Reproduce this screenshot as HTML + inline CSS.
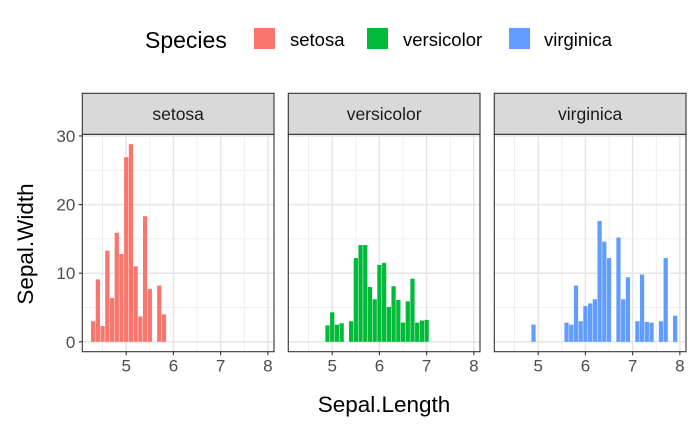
<!DOCTYPE html>
<html><head><meta charset="utf-8"><style>body{margin:0;background:#fff}svg{display:block;font-family:"Liberation Sans",Arial,sans-serif}</style></head>
<body>
<svg id="c" width="700" height="432" viewBox="0 0 700 432">
<g>
<text x="145" y="48" font-size="23" fill="#000">Species</text>
<rect x="254" y="28" width="21" height="21" fill="#F8766D"/>
<text x="290" y="46" font-size="18.5">setosa</text>
<rect x="367" y="28" width="21" height="21" fill="#00BA38"/>
<text x="403" y="46" font-size="18.5">versicolor</text>
<rect x="509" y="28" width="21" height="21" fill="#619CFF"/>
<text x="544" y="46" font-size="18.5">virginica</text>
</g>
<text x="384" y="412" font-size="22.5" text-anchor="middle">Sepal.Length</text>
<text transform="translate(33,244) rotate(-90)" font-size="22.5" text-anchor="middle">Sepal.Width</text>
<g id="panels"></g>
</svg>
<script>
const species = ["setosa","versicolor","virginica"];
const colors = ["#F8766D","#00BA38","#619CFF"];
const setosaX = [4.3,4.4,4.5,4.6,4.7,4.8,4.9,5.0,5.1,5.2,5.3,5.4,5.5,5.7,5.8];
const setosaY = [3.0,9.1,2.3,13.3,6.4,15.9,12.8,26.9,28.8,11.0,3.7,18.3,7.7,8.2,4.0];
const versicolorX = [4.9,5.0,5.1,5.2,5.4,5.5,5.6,5.7,5.8,5.9,6.0,6.1,6.2,6.3,6.4,6.5,6.6,6.7,6.8,6.9,7.0];
const versicolorY = [2.4,4.3,2.5,2.7,3.0,12.2,14.1,14.1,8.0,6.2,11.2,11.5,5.1,8.1,6.1,2.8,5.9,9.2,2.8,3.1,3.2];
const virginicaX = [4.9,5.6,5.7,5.8,5.9,6.0,6.1,6.2,6.3,6.4,6.5,6.7,6.8,6.9,7.1,7.2,7.3,7.4,7.6,7.7,7.9];
const virginicaY = [2.5,2.8,2.5,8.2,3.0,5.2,5.6,6.2,17.6,14.6,12.2,15.2,6.2,9.4,3.0,9.8,2.9,2.8,3.0,12.2,3.8];
const xTicks = [5,6,7,8];
const yTicks = [0,10,20,30];

const NS="http://www.w3.org/2000/svg";
const root=document.getElementById('panels');
const panelLefts=[82.3,288.3,494.3], PW=191.7, PT=134.3, PB=351.7;
const xMin=4.07, xMax=8.13, yMin=-1.44, yMax=30.24;
function mk(t,a,p){const e=document.createElementNS(NS,t);for(const k in a)e.setAttribute(k,a[k]);(p||root).appendChild(e);return e;}
const data=[[setosaX,setosaY],[versicolorX,versicolorY],[virginicaX,virginicaY]];
species.forEach((sp,i)=>{
  const L=panelLefts[i];
  const sx=v=>L+(v-xMin)/(xMax-xMin)*PW;
  const sy=v=>PB-(v-yMin)/(yMax-yMin)*(PB-PT);
  const g=mk('g',{});
  
  
  const bg=mk('rect',{x:L,y:PT,width:PW,height:PB-PT,fill:'#fff'},g);
  
  
  for(let v=4.5;v<8.2;v+=1){const l=mk('line',{x1:sx(v),x2:sx(v),y1:PT,y2:PB,stroke:'#ebebeb','stroke-width':0.8},g);}
  for(let v=5;v<30;v+=10){const l=mk('line',{x1:L,x2:L+PW,y1:sy(v),y2:sy(v),stroke:'#ebebeb','stroke-width':0.8},g);}
  xTicks.forEach(t=>{const l=mk('line',{x1:sx(t),x2:sx(t),y1:PT,y2:PB,stroke:'#e6e6e6','stroke-width':1.5},g);
    const tk=mk('line',{x1:sx(t),x2:sx(t),y1:PB,y2:PB+3.5,stroke:'#333','stroke-width':1.1},g);
    const tx=mk('text',{x:sx(t),y:PB+20,'font-size':17,'text-anchor':'middle',fill:'#4d4d4d'},g);tx.textContent=t;});
  yTicks.forEach(t=>{const l=mk('line',{x1:L,x2:L+PW,y1:sy(t),y2:sy(t),stroke:'#e6e6e6','stroke-width':1.5},g);
    if(i===0){const tk=mk('line',{x1:L-3.5,x2:L,y1:sy(t),y2:sy(t),stroke:'#333','stroke-width':1.1},g);
    const tx=mk('text',{x:L-7,y:sy(t)+6,'font-size':17,'text-anchor':'end',fill:'#4d4d4d'},g);tx.textContent=t;}});
  const [xs,ys]=data[i];
  const bw=0.09/(xMax-xMin)*PW;
  xs.forEach((x,j)=>{const b=mk('rect',{x:sx(x)-bw/2,y:sy(ys[j]),width:bw,height:sy(0)-sy(ys[j]),fill:colors[i]},g);
    
    });
  const br=mk('rect',{x:L,y:PT,width:PW,height:PB-PT,fill:'none',stroke:'#333','stroke-width':1.1},g);
  
  const st=mk('rect',{x:L,y:93.3,width:PW,height:PT-93.3,fill:'#d9d9d9',stroke:'#333','stroke-width':1.1},g);
  
  const stt=mk('text',{x:L+PW/2,y:120,'font-size':17.5,'text-anchor':'middle',fill:'#1a1a1a'},g);stt.textContent=sp;
  
});
</script>
</body></html>
